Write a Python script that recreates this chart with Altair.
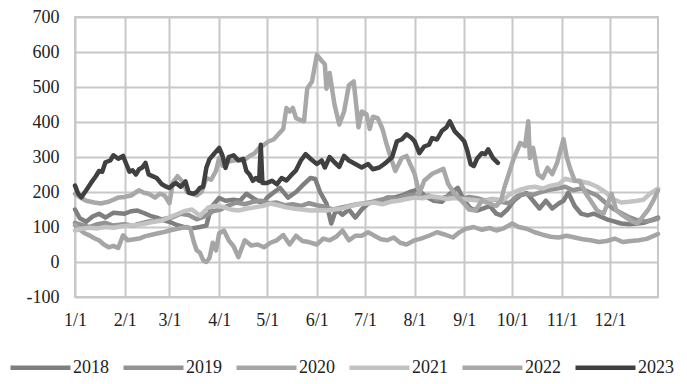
import altair as alt
import pandas as pd

years = ["2018", "2019", "2020", "2021", "2022", "2023"]
colors = ["#7f7f7f", "#939393", "#a5a5a5", "#c3c3c3", "#a8a8a8", "#404040"]
widths = [4.5, 4.5, 4.5, 4.5, 4.5, 6]

month_labels = ["1/1", "2/1", "3/1", "4/1", "5/1", "6/1", "7/1", "8/1", "9/1", "10/1", "11/1", "12/1"]
y_ticks = [-100, 0, 100, 200, 300, 400, 500, 600, 700]

d2018 = ["1/1","1/4","1/8","1/12","1/16","1/20","1/25","2/1","2/5","2/9","2/13","2/17","2/21","2/26","3/2","3/6","3/11","3/15","3/20","3/24","3/27","4/1","4/5","4/10","4/14","4/18","4/23","4/28","5/1","5/4","5/9","5/14","5/19","5/24","5/28","5/31","6/3","6/7","6/10","6/13","6/17","6/21","6/25","6/29","7/3","7/7","7/11","7/15","7/19","7/24","7/29","8/3","8/8","8/13","8/18","8/23","8/28","9/1","9/5","9/9","9/13","9/17","9/21","9/24","9/28","10/2","10/6","10/10","10/14","10/18","10/22","10/26","10/30","11/2","11/5","11/9","11/13","11/17","11/21","11/25","11/29","12/3","12/8","12/13","12/18","12/22","12/26","12/31"]
v2018 = [150,125,115,130,138,127,141,138,145,147,140,132,127,118,113,105,99,96,100,104,156,183,175,178,175,195,180,167,184,195,212,184,200,223,240,237,200,167,110,150,135,150,127,150,167,172,175,184,184,190,200,207,187,175,172,195,212,175,153,147,153,160,138,133,150,175,190,197,175,153,175,153,167,175,198,160,138,133,138,130,122,117,110,108,110,112,118,127,133]

d2019 = ["1/1","1/5","1/10","1/15","1/20","1/25","2/1","2/6","2/11","2/16","2/21","2/26","3/3","3/8","3/13","3/18","3/23","3/28","4/2","4/7","4/12","4/17","4/22","4/27","5/2","5/7","5/12","5/17","5/22","5/27","6/1","6/6","6/11","6/16","6/21","6/26","7/1","7/6","7/11","7/16","7/21","7/26","7/31","8/5","8/10","8/15","8/20","8/25","8/30","9/4","9/9","9/14","9/19","9/24","9/29","10/4","10/9","10/14","10/19","10/24","10/29","11/3","11/8","11/13","11/18","11/23","11/28","12/3","12/8","12/13","12/18","12/23","12/28","12/31"]
v2019 = [112,106,100,108,112,104,108,104,110,116,118,124,128,138,134,122,130,145,150,162,170,165,172,175,168,170,162,165,160,168,162,158,150,155,160,165,168,172,178,182,180,188,192,185,190,178,185,192,180,186,182,176,180,172,168,188,195,192,200,206,210,215,205,210,200,190,170,152,140,128,120,116,120,124]

d2020 = ["1/1","1/4","1/7","1/10","1/13","1/16","1/19","1/22","1/25","1/28","1/31","2/3","2/6","2/10","2/14","2/18","2/22","2/26","3/1","3/5","3/9","3/12","3/14","3/16","3/18","3/20","3/22","3/24","3/26","3/28","3/30","4/1","4/4","4/7","4/10","4/13","4/17","4/21","4/25","4/29","5/3","5/7","5/11","5/15","5/19","5/23","5/27","6/1","6/5","6/9","6/13","6/17","6/21","6/25","6/29","7/3","7/7","7/11","7/15","7/19","7/23","7/27","8/1","8/5","8/10","8/15","8/20","8/25","8/29","9/2","9/7","9/12","9/17","9/21","9/26","10/1","10/5","10/10","10/15","10/20","10/25","10/30","11/4","11/9","11/14","11/19","11/24","11/29","12/4","12/9","12/14","12/19","12/24","12/31"]
v2020 = [105,92,82,76,68,62,50,42,46,40,76,62,64,67,74,78,82,86,90,94,98,100,96,60,33,27,5,0,12,55,33,82,90,62,45,14,62,47,50,42,55,62,77,50,75,60,57,50,67,62,72,90,62,75,75,85,75,65,62,70,55,50,62,67,75,85,78,70,85,95,100,92,97,90,97,110,100,95,85,78,72,70,75,70,65,62,57,60,67,57,60,62,66,80]

d2021 = ["1/1","1/5","1/10","1/15","1/20","1/25","1/30","2/4","2/9","2/14","2/19","2/24","3/1","3/5","3/10","3/15","3/20","3/25","3/29","4/3","4/8","4/13","4/18","4/23","4/28","5/3","5/8","5/13","5/18","5/23","5/28","6/2","6/7","6/12","6/17","6/22","6/27","7/2","7/7","7/12","7/17","7/22","7/27","8/1","8/6","8/11","8/16","8/21","8/26","8/31","9/5","9/10","9/15","9/20","9/25","9/30","10/5","10/10","10/15","10/20","10/25","10/30","11/3","11/8","11/13","11/18","11/23","11/28","12/3","12/8","12/13","12/18","12/22","12/26","12/31"]
v2021 = [90,95,98,96,100,98,102,104,106,110,115,118,128,135,145,150,132,155,160,158,150,147,152,156,160,167,162,156,152,150,147,148,147,150,153,160,165,167,170,165,172,175,180,184,182,188,185,180,183,180,178,176,175,180,176,195,205,212,215,210,218,222,238,232,230,225,215,200,180,170,172,175,178,195,210]

d2022 = ["1/1","1/4","1/8","1/13","1/17","1/22","1/28","2/1","2/5","2/10","2/13","2/16","2/20","2/23","2/26","3/1","3/3","3/6","3/9","3/12","3/15","3/18","3/21","3/24","3/27","3/30","4/1","4/3","4/5","4/9","4/13","4/16","4/20","4/23","4/26","4/29","5/2","5/5","5/8","5/11","5/13","5/15","5/17","5/19","5/22","5/24","5/26","5/29","6/1","6/4","6/6","6/7","6/9","6/12","6/15","6/18","6/21","6/24","6/26","6/27","6/29","7/2","7/4","7/6","7/9","7/12","7/14","7/17","7/20","7/24","7/27","8/1","8/4","8/7","8/12","8/19","8/22","8/26","9/1","9/4","9/8","9/12","9/17","9/21","9/24","9/26","9/28","10/2","10/6","10/9","10/11","10/12","10/14","10/17","10/20","10/23","10/26","10/29","11/2","11/4","11/6","11/9","11/12","11/16","11/19","11/23","11/27","12/2","12/5","12/9","12/14","12/18","12/21","12/25","12/28","12/31"]
v2022 = [195,185,175,170,167,172,184,186,190,205,198,195,184,195,190,168,226,245,230,200,195,190,200,240,235,260,297,275,285,289,292,289,303,310,326,335,345,350,365,380,440,430,440,411,405,402,496,516,592,575,565,495,540,450,393,430,505,516,430,385,430,422,380,415,411,380,345,300,260,297,303,252,195,232,252,266,223,195,167,150,147,175,167,160,175,212,240,297,340,331,402,297,326,251,240,269,251,283,351,300,269,232,232,195,175,147,138,195,147,133,118,110,127,150,175,204]

d2023 = ["1/1","1/3","1/5","1/8","1/11","1/14","1/16","1/18","1/20","1/23","1/25","1/28","1/31","2/2","2/4","2/6","2/8","2/10","2/12","2/14","2/16","2/18","2/21","2/24","2/27","3/1","3/3","3/5","3/8","3/11","3/13","3/16","3/18","3/20","3/22","3/24","3/26","3/29","4/1","4/3","4/5","4/7","4/10","4/13","4/16","4/18","4/20","4/22","4/24","4/26","4/27","4/28","5/1","5/4","5/7","5/10","5/13","5/16","5/19","5/22","5/25","5/28","6/1","6/4","6/6","6/9","6/12","6/15","6/18","6/21","6/25","6/29","7/3","7/6","7/10","7/14","7/18","7/21","7/24","7/27","7/30","8/1","8/4","8/7","8/10","8/12","8/15","8/18","8/21","8/23","8/26","8/29","9/1","9/3","9/5","9/7","9/9","9/12","9/14","9/16","9/19","9/22"]
v2023 = [218,195,185,205,226,245,260,258,285,290,305,295,303,280,258,262,250,265,270,283,250,246,240,223,215,212,220,226,215,230,198,195,200,212,215,269,294,310,326,305,269,300,305,290,295,260,250,232,240,232,335,226,226,232,222,240,233,248,262,290,308,295,280,290,270,300,285,272,303,290,280,270,280,265,270,283,300,345,350,365,355,345,311,330,335,354,350,374,385,402,374,360,345,317,280,274,295,311,308,322,297,283]

month_start = [0, 31, 59, 90, 120, 151, 181, 212, 243, 273, 304, 334]


def doy(s):
    m, d = s.split("/")
    return month_start[int(m) - 1] + int(d) - 1


rows = []
for yr, ds, vs in [("2018", d2018, v2018), ("2019", d2019, v2019), ("2020", d2020, v2020),
                   ("2021", d2021, v2021), ("2022", d2022, v2022), ("2023", d2023, v2023)]:
    for i, (d, v) in enumerate(zip(ds, vs)):
        rows.append({"year": yr, "day": doy(d), "value": v, "idx": i})
df = pd.DataFrame(rows)

label_expr = "{" + ",".join(f"'{s}':'{l}'" for s, l in zip(month_start, month_labels)) + "}[datum.value]"

FONT = "Liberation Serif"

chart = alt.Chart(df).mark_line(strokeCap="round", strokeJoin="round").encode(
    x=alt.X("day:Q", scale=alt.Scale(domain=[0, 364], nice=False, zero=False),
            axis=alt.Axis(values=month_start, labelExpr=label_expr, title=None, ticks=False,
                          domain=False, labelPadding=14, labelFontSize=18, labelFont=FONT,
                          labelColor="#222222", gridColor="#c8c8c8", gridWidth=2,
                          labelFlush=False)),
    y=alt.Y("value:Q", scale=alt.Scale(domain=[-100, 700], nice=False, zero=False),
            axis=alt.Axis(values=y_ticks, labelExpr="'' + datum.value", title=None, ticks=False,
                          domain=False, labelPadding=16, labelFontSize=18, labelFont=FONT,
                          labelColor="#222222", gridColor="#c8c8c8", gridWidth=2)),
    color=alt.Color("year:N", scale=alt.Scale(domain=years, range=colors),
                    legend=alt.Legend(title=None, orient="none", direction="horizontal",
                                      legendX=-67, legendY=318, symbolType="stroke",
                                      symbolSize=3600, symbolStrokeWidth=6, labelOffset=0,
                                      columnPadding=5, labelFontSize=18, labelFont=FONT,
                                      labelColor="#222222")),
    strokeWidth=alt.StrokeWidth("year:N", scale=alt.Scale(domain=years, range=widths), legend=None),
    order="idx:Q",
).properties(
    width=583, height=280,
    autosize="none",
    padding={"left": 67, "top": 9, "right": 21, "bottom": 79},
).configure_view(stroke="#c8c8c8", strokeWidth=2)

chart.save("out.html", embed_options={"renderer": "svg", "actions": False})
